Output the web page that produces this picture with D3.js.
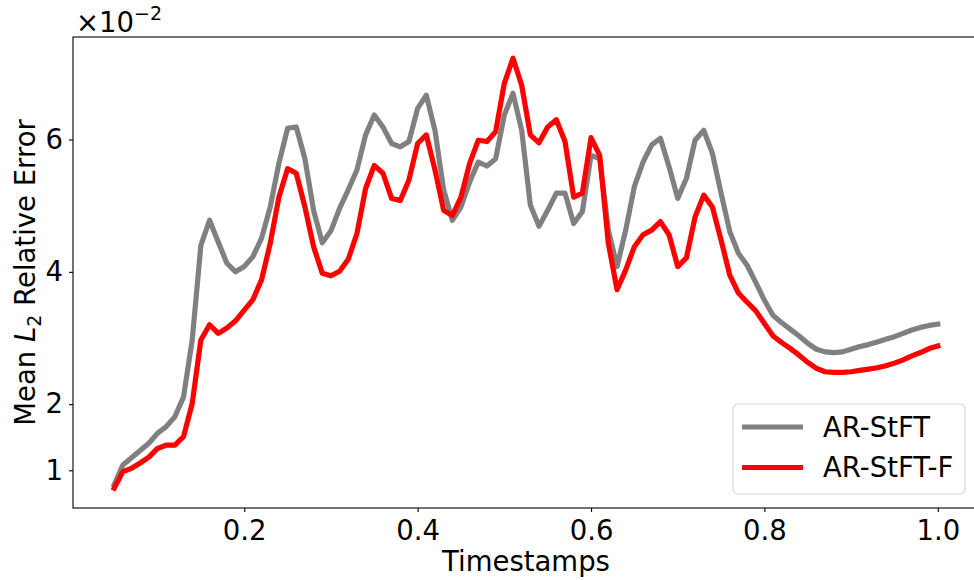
<!DOCTYPE html>
<html>
<head>
<meta charset="utf-8">
<script src="https://cdn.jsdelivr.net/npm/d3@7"></script>
<style>
  body { margin: 0; background: #fff; }
  text { font-family: "DejaVu Sans", sans-serif; fill: #000; }
</style>
</head>
<body>
<div id="svg-container"></div>
<script>
// timestamps and errors (values in units of 1e-2)
var timestamps = [0.05,0.06,0.07,0.08,0.09,0.10,0.11,0.12,0.13,0.14,0.15,0.16,0.17,0.18,0.19,0.20,
  0.21,0.22,0.23,0.24,0.25,0.26,0.27,0.28,0.29,0.30,0.31,0.32,0.33,0.34,0.35,0.36,0.37,0.38,0.39,0.40,
  0.41,0.42,0.43,0.44,0.45,0.46,0.47,0.48,0.49,0.50,0.51,0.52,0.53,0.54,0.55,0.56,0.57,0.58,0.59,0.60,
  0.61,0.62,0.63,0.64,0.65,0.66,0.67,0.68,0.69,0.70,0.71,0.72,0.73,0.74,0.75,0.76,0.77,0.78,0.79,0.80,
  0.81,0.82,0.83,0.84,0.85,0.86,0.87,0.88,0.89,0.90,0.91,0.92,0.93,0.94,0.95,0.96,0.97,0.98,0.99,1.00];

var arStft = [0.78,1.08,1.19,1.30,1.41,1.56,1.66,1.81,2.11,2.97,4.40,4.78,4.45,4.13,4.00,4.08,
  4.23,4.51,4.98,5.64,6.17,6.19,5.71,4.93,4.44,4.62,4.96,5.24,5.54,6.07,6.37,6.19,5.94,5.89,5.97,6.47,
  6.67,6.14,5.24,4.78,4.98,5.36,5.66,5.60,5.71,6.37,6.70,6.14,5.01,4.69,4.93,5.19,5.19,4.73,4.91,5.76,
  5.71,4.63,4.08,4.63,5.29,5.66,5.92,6.02,5.59,5.11,5.41,5.99,6.14,5.79,5.19,4.61,4.28,4.10,3.84,3.57,
  3.34,3.23,3.13,3.03,2.92,2.83,2.79,2.78,2.79,2.83,2.87,2.90,2.94,2.98,3.02,3.07,3.12,3.16,3.19,3.21];

var arStftF = [0.73,0.98,1.03,1.11,1.20,1.33,1.38,1.38,1.51,2.01,2.97,3.20,3.07,3.15,3.26,3.42,
  3.58,3.88,4.43,5.13,5.56,5.49,4.98,4.38,3.98,3.94,4.01,4.19,4.58,5.26,5.61,5.49,5.11,5.08,5.39,5.94,
  6.07,5.54,4.93,4.85,5.13,5.64,5.99,5.97,6.12,6.85,7.23,6.82,6.07,5.95,6.19,6.30,5.97,5.13,5.19,6.03,
  5.76,4.43,3.73,4.03,4.38,4.56,4.63,4.76,4.56,4.08,4.21,4.83,5.16,4.98,4.48,3.95,3.68,3.54,3.41,3.22,
  3.03,2.93,2.84,2.74,2.63,2.54,2.49,2.48,2.48,2.49,2.51,2.53,2.55,2.58,2.62,2.67,2.73,2.78,2.84,2.88];

var seriesNames = ["AR-StFT", "AR-StFT-F"];
var seriesColors = ["#808080", "#ff0000"];
var xTicks = [0.2, 0.4, 0.6, 0.8, 1.0];
var yTicks = [1, 2, 4, 6];

var W = 974, H = 580;
var pLeft = 73, pTop = 37, pRight = 979, pBottom = 508;
var fs = 27.5;

var svg = d3.select("#svg-container").append("svg").attr("width", W).attr("height", H);

var x = d3.scaleLinear().domain([0.0025, 1.0475]).range([pLeft, pRight]);
var y = d3.scaleLinear().domain([0.43, 7.55]).range([pBottom, pTop]);

// lines
var line = d3.line().x(function(d){ return x(d[0]); }).y(function(d){ return y(d[1]); });
[arStft, arStftF].forEach(function(vals, k){
  svg.append("path")
    .datum(timestamps.map(function(t, i){ return [t, vals[i]]; }))
    .attr("d", line)
    .attr("fill", "none")
    .attr("stroke", seriesColors[k])
    .attr("stroke-width", 5.2)
    .attr("stroke-linejoin", "round")
    .attr("stroke-linecap", "square");
});

// axes
var xAxis = svg.append("g").attr("transform", "translate(0," + pBottom + ")")
  .call(d3.axisBottom(x).tickValues(xTicks).tickFormat(d3.format(".1f")).tickSize(4).tickPadding(5));
var yAxis = svg.append("g").attr("transform", "translate(" + pLeft + ",0)")
  .call(d3.axisLeft(y).tickValues(yTicks).tickFormat(d3.format("d")).tickSize(4).tickPadding(6));
[xAxis, yAxis].forEach(function(g){
  g.select(".domain").remove();
  g.selectAll("line").attr("stroke", "#000").attr("stroke-width", 1.1);
  g.selectAll("text").attr("font-size", fs).attr("font-family", "DejaVu Sans");
});
xAxis.selectAll("text").attr("dy", "0.82em");

// frame
svg.append("rect").attr("x", pLeft).attr("y", pTop).attr("width", pRight - pLeft).attr("height", pBottom - pTop)
  .attr("fill", "none").attr("stroke", "#000").attr("stroke-width", 1.1);

// offset text
var off = svg.append("text").attr("x", 76).attr("y", 32).attr("font-size", fs);
off.append("tspan").text("×10");
off.append("tspan").attr("font-size", 19).attr("dy", -12).text("−2");

// axis titles
svg.append("text").attr("x", (pLeft + pRight) / 2).attr("y", 571).attr("text-anchor", "middle")
  .attr("font-size", fs).text("Timestamps");
var yt = svg.append("text").attr("transform", "translate(35," + (pTop + pBottom) / 2 + ") rotate(-90)")
  .attr("text-anchor", "middle").attr("font-size", fs);
yt.append("tspan").text("Mean ");
yt.append("tspan").attr("font-style", "italic").text("L");
yt.append("tspan").attr("font-size", 19).attr("dy", 6).text("2");
yt.append("tspan").attr("dy", -6).text(" Relative Error");

// legend
var leg = svg.append("g");
leg.append("rect").attr("x", 733).attr("y", 404).attr("width", 232).attr("height", 90).attr("rx", 5)
  .attr("fill", "#fff").attr("fill-opacity", 0.8).attr("stroke", "#d6d6d6").attr("stroke-width", 1.1);
seriesNames.forEach(function(name, k){
  var ly = 427 + k * 40.5;
  leg.append("line").attr("x1", 742).attr("x2", 803).attr("y1", ly).attr("y2", ly)
    .attr("stroke", seriesColors[k]).attr("stroke-width", 5.2);
  leg.append("text").attr("x", 823).attr("y", ly).attr("dy", "0.35em").attr("font-size", fs).text(name);
});
</script>
</body>
</html>
